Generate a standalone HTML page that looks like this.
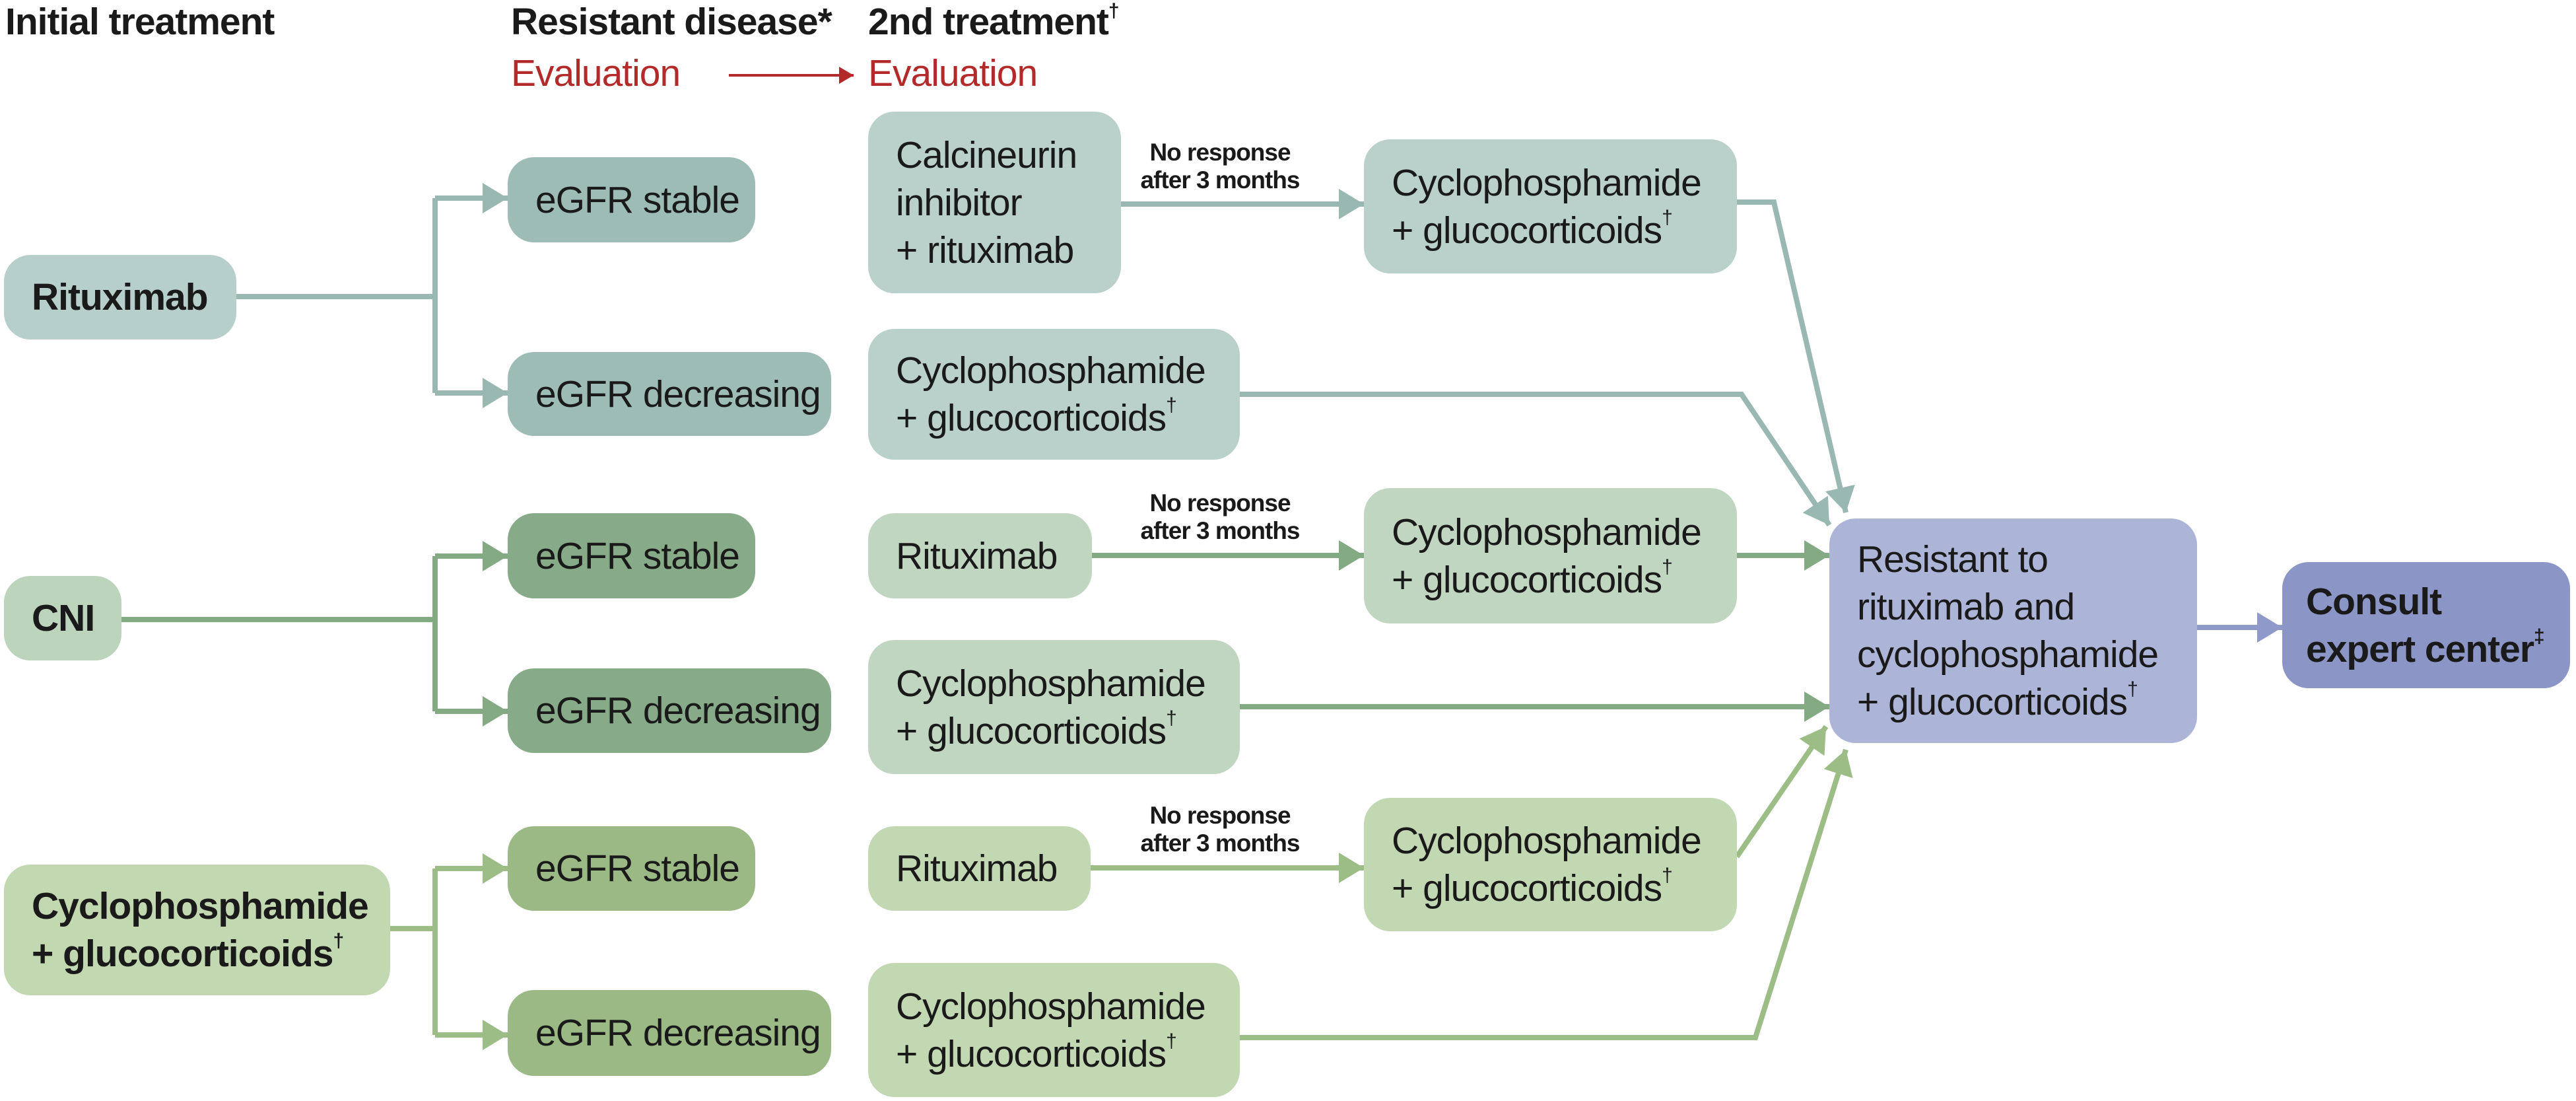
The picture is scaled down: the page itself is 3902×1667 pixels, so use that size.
<!DOCTYPE html>
<html><head><meta charset="utf-8"><style>
html,body{margin:0;padding:0;background:#fff;}
#c{position:relative;width:3902px;height:1667px;overflow:hidden;font-family:"Liberation Sans",sans-serif;color:#1a1a1a;}
.b{position:absolute;border-radius:40px;display:flex;flex-direction:column;justify-content:center;box-sizing:border-box;padding-left:42px;font-size:57px;line-height:72px;letter-spacing:-1px;white-space:nowrap;}
.bold{font-weight:bold;}
.h{position:absolute;font-size:57px;font-weight:bold;letter-spacing:-1px;white-space:nowrap;}
.r{position:absolute;font-size:57px;color:#b22a2a;letter-spacing:-1px;white-space:nowrap;}
.n{position:absolute;font-size:37px;font-weight:bold;line-height:42px;text-align:center;letter-spacing:-1px;white-space:nowrap;}
sup{font-size:30px;vertical-align:top;line-height:30px;position:relative;top:2px;}
svg{position:absolute;left:0;top:0;}
</style></head><body><div id="c">
<svg width="3902" height="1667" viewBox="0 0 3902 1667">
<defs>
<marker id="aT" markerUnits="userSpaceOnUse" markerWidth="40" markerHeight="46" refX="38" refY="23" orient="auto"><path d="M0,0 L38,23 L0,46 Z" fill="#98b8b1"/></marker>
<marker id="aG" markerUnits="userSpaceOnUse" markerWidth="40" markerHeight="46" refX="38" refY="23" orient="auto"><path d="M0,0 L38,23 L0,46 Z" fill="#84aa84"/></marker>
<marker id="aL" markerUnits="userSpaceOnUse" markerWidth="40" markerHeight="46" refX="38" refY="23" orient="auto"><path d="M0,0 L38,23 L0,46 Z" fill="#9cbd86"/></marker>
<marker id="aP" markerUnits="userSpaceOnUse" markerWidth="40" markerHeight="46" refX="38" refY="23" orient="auto"><path d="M0,0 L38,23 L0,46 Z" fill="#8f9acb"/></marker>
<marker id="aR" markerUnits="userSpaceOnUse" markerWidth="24" markerHeight="26" refX="22" refY="13" orient="auto"><path d="M0,0 L22,13 L0,26 Z" fill="#b22a2a"/></marker>
</defs>
<g fill="none" stroke-width="8">
<line x1="1104" y1="114" x2="1293" y2="114" stroke="#b22a2a" stroke-width="4" marker-end="url(#aR)"/>
<g stroke="#98b8b1">
<polyline points="358,449 659,449"/>
<line x1="659" y1="300" x2="659" y2="595"/>
<line x1="659" y1="300" x2="769" y2="300" marker-end="url(#aT)"/>
<line x1="659" y1="595" x2="769" y2="595" marker-end="url(#aT)"/>
<line x1="1698" y1="309" x2="2066" y2="309" marker-end="url(#aT)"/>
<polyline points="2631,306 2687,306 2796,776" marker-end="url(#aT)"/>
<polyline points="1878,597 2638,597 2771,795" marker-end="url(#aT)"/>
</g>
<g stroke="#84aa84">
<line x1="184" y1="938" x2="659" y2="938"/>
<line x1="659" y1="842" x2="659" y2="1077"/>
<line x1="659" y1="842" x2="769" y2="842" marker-end="url(#aG)"/>
<line x1="659" y1="1077" x2="769" y2="1077" marker-end="url(#aG)"/>
<line x1="1654" y1="841" x2="2066" y2="841" marker-end="url(#aG)"/>
<line x1="2631" y1="841" x2="2771" y2="841" marker-end="url(#aG)"/>
<line x1="1878" y1="1070" x2="2771" y2="1070" marker-end="url(#aG)"/>
</g>
<g stroke="#9cbd86">
<line x1="591" y1="1406" x2="659" y2="1406"/>
<line x1="659" y1="1315" x2="659" y2="1567"/>
<line x1="659" y1="1315" x2="769" y2="1315" marker-end="url(#aL)"/>
<line x1="659" y1="1567" x2="769" y2="1567" marker-end="url(#aL)"/>
<line x1="1652" y1="1314" x2="2066" y2="1314" marker-end="url(#aL)"/>
<polyline points="2631,1297 2766,1100" marker-end="url(#aL)"/>
<polyline points="1878,1571 2659,1571 2796,1135" marker-end="url(#aL)"/>
</g>
<line x1="3328" y1="950" x2="3457" y2="950" stroke="#8f9acb" marker-end="url(#aP)"/>
</g>
</svg>

<div class="h" style="left:8px;top:0px;">Initial treatment</div>
<div class="h" style="left:774px;top:0px;">Resistant disease*</div>
<div class="h" style="left:1315px;top:0px;">2nd treatment<sup>†</sup></div>
<div class="r" style="left:774px;top:78px;">Evaluation</div>
<div class="r" style="left:1315px;top:78px;">Evaluation</div>

<div class="b bold" style="left:6px;top:386px;width:352px;height:128px;background:#b7cfca;">Rituximab</div>
<div class="b bold" style="left:6px;top:872px;width:178px;height:128px;background:#bcd4bc;">CNI</div>
<div class="b bold" style="left:6px;top:1309px;width:585px;height:198px;background:#c2d8b0;"><div>Cyclophosphamide</div><div>+ glucocorticoids<sup>†</sup></div></div>

<div class="b" style="left:769px;top:238px;width:375px;height:129px;background:#9ebcb6;">eGFR stable</div>
<div class="b" style="left:769px;top:533px;width:490px;height:127px;background:#9ebcb6;">eGFR decreasing</div>
<div class="b" style="left:769px;top:777px;width:375px;height:129px;background:#87ab88;">eGFR stable</div>
<div class="b" style="left:769px;top:1012px;width:490px;height:128px;background:#87ab88;">eGFR decreasing</div>
<div class="b" style="left:769px;top:1251px;width:375px;height:128px;background:#9ab985;">eGFR stable</div>
<div class="b" style="left:769px;top:1499px;width:490px;height:130px;background:#9ab985;">eGFR decreasing</div>

<div class="b" style="left:1315px;top:169px;width:383px;height:275px;background:#b9d0cb;"><div>Calcineurin</div><div>inhibitor</div><div>+ rituximab</div></div>
<div class="b" style="left:1315px;top:498px;width:563px;height:198px;background:#b9d0cb;"><div>Cyclophosphamide</div><div>+ glucocorticoids<sup>†</sup></div></div>
<div class="b" style="left:1315px;top:777px;width:339px;height:129px;background:#c0d6c0;">Rituximab</div>
<div class="b" style="left:1315px;top:969px;width:563px;height:203px;background:#c0d6c0;"><div>Cyclophosphamide</div><div>+ glucocorticoids<sup>†</sup></div></div>
<div class="b" style="left:1315px;top:1251px;width:337px;height:128px;background:#c2d8b2;">Rituximab</div>
<div class="b" style="left:1315px;top:1458px;width:563px;height:203px;background:#c2d8b2;"><div>Cyclophosphamide</div><div>+ glucocorticoids<sup>†</sup></div></div>

<div class="n" style="left:1705px;top:210px;width:286px;">No response<br>after 3 months</div>
<div class="n" style="left:1705px;top:741px;width:286px;">No response<br>after 3 months</div>
<div class="n" style="left:1705px;top:1214px;width:286px;">No response<br>after 3 months</div>

<div class="b" style="left:2066px;top:211px;width:565px;height:203px;background:#b9d0cb;"><div>Cyclophosphamide</div><div>+ glucocorticoids<sup>†</sup></div></div>
<div class="b" style="left:2066px;top:739px;width:565px;height:205px;background:#c0d6c0;"><div>Cyclophosphamide</div><div>+ glucocorticoids<sup>†</sup></div></div>
<div class="b" style="left:2066px;top:1208px;width:565px;height:202px;background:#c2d8b2;"><div>Cyclophosphamide</div><div>+ glucocorticoids<sup>†</sup></div></div>

<div class="b" style="left:2771px;top:785px;width:557px;height:340px;background:#acb4d8;"><div>Resistant to</div><div>rituximab and</div><div>cyclophosphamide</div><div>+ glucocorticoids<sup>†</sup></div></div>
<div class="b bold" style="left:3457px;top:851px;width:436px;height:191px;background:#8b95c6;padding-left:36px;"><div>Consult</div><div>expert center<sup>‡</sup></div></div>
</div></body></html>
